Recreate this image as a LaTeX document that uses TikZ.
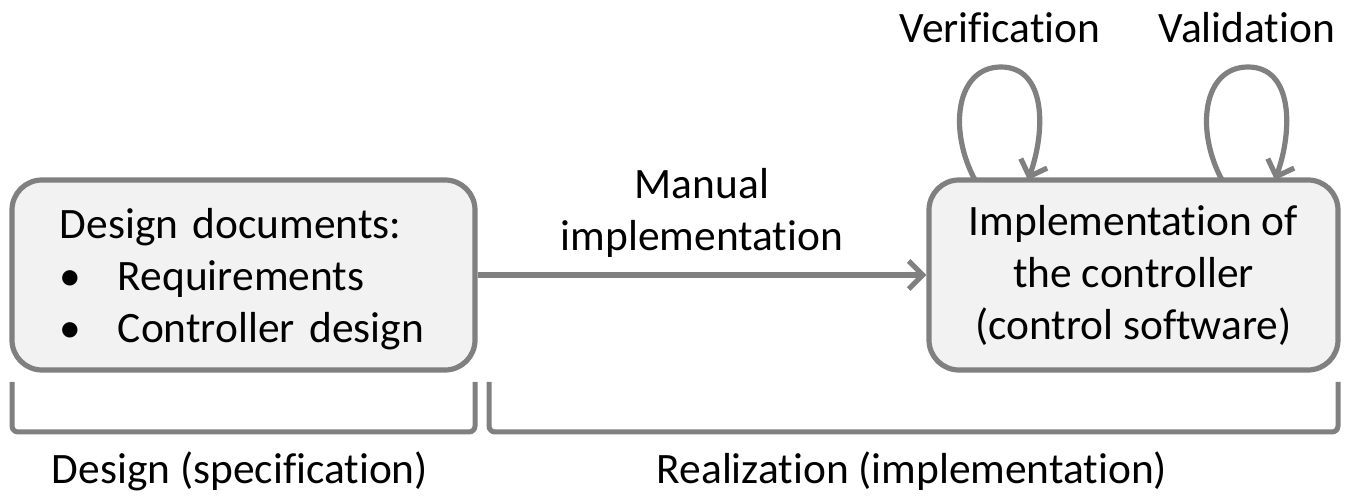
\documentclass[tikz,border=0pt]{standalone}
\usepackage{fontspec}
\setmainfont{Carlito}[Ligatures={NoCommon,NoContextual,NoRequired}]
\usetikzlibrary{arrows.meta}
\definecolor{edgegray}{RGB}{128,128,128}
\definecolor{boxfill}{RGB}{242,242,242}
\begin{document}
\begin{tikzpicture}[x=0.5pt,y=-0.5pt,
  every node/.style={font=\fontsize{21.7}{26}\selectfont, text=black},
  box/.style={draw=edgegray, fill=boxfill, line width=2.6pt, rounded corners=15pt,
    minimum height=95pt, inner ysep=0pt},
  conn/.style={draw=edgegray, line width=2.6pt, -{Straight Barb[length=7pt,width=14pt]}},
  brace/.style={draw=edgegray, line width=2.5pt, rounded corners=3pt}]
\useasboundingbox (0,0) rectangle (1351,497);
\node[box, minimum width=231.5pt, text width=183.5pt, inner xsep=24pt, align=left] (design) at (243.5,275)
  {\rule{0pt}{19.5pt}Design documents:\\\makebox[29pt][l]{\textbullet}Requirements\\\makebox[29pt][l]{\textbullet}Controller design};
\node[box, minimum width=204.5pt, align=center] (impl) at (1133.5,275)
  {Implementation of\\the controller\\(control software)};
\draw[conn] (design.east) -- node[above=4pt, align=center] (manual) {Manual\\implementation} (impl.west);
% loops
\coordinate (v1) at (975,180);
\coordinate (v2) at (1028,180);
\coordinate (w1) at (1222,180);
\coordinate (w2) at (1275,180);
\draw[conn] (v1) .. controls (948,130) and (956,67) .. (1001,67) .. controls (1046,67) and (1046,130) .. (v2);
\draw[conn] (w1) .. controls (1195,130) and (1203,67) .. (1248,67) .. controls (1293,67) and (1293,130) .. (w2);
\node (ver) at (1000,28) {Verification};
\node (val) at (1247,28) {Validation};
% brackets
\draw[brace] (12,382) -- (12,432) -- (475,432) -- (475,382);
\draw[brace] (489,382) -- (489,432) -- (1338,432) -- (1338,382);
\node (spec) at (240,471) {Design (specification)};
\node (real) at (912,471) {Realization (implementation)};
\end{tikzpicture}
\end{document}
